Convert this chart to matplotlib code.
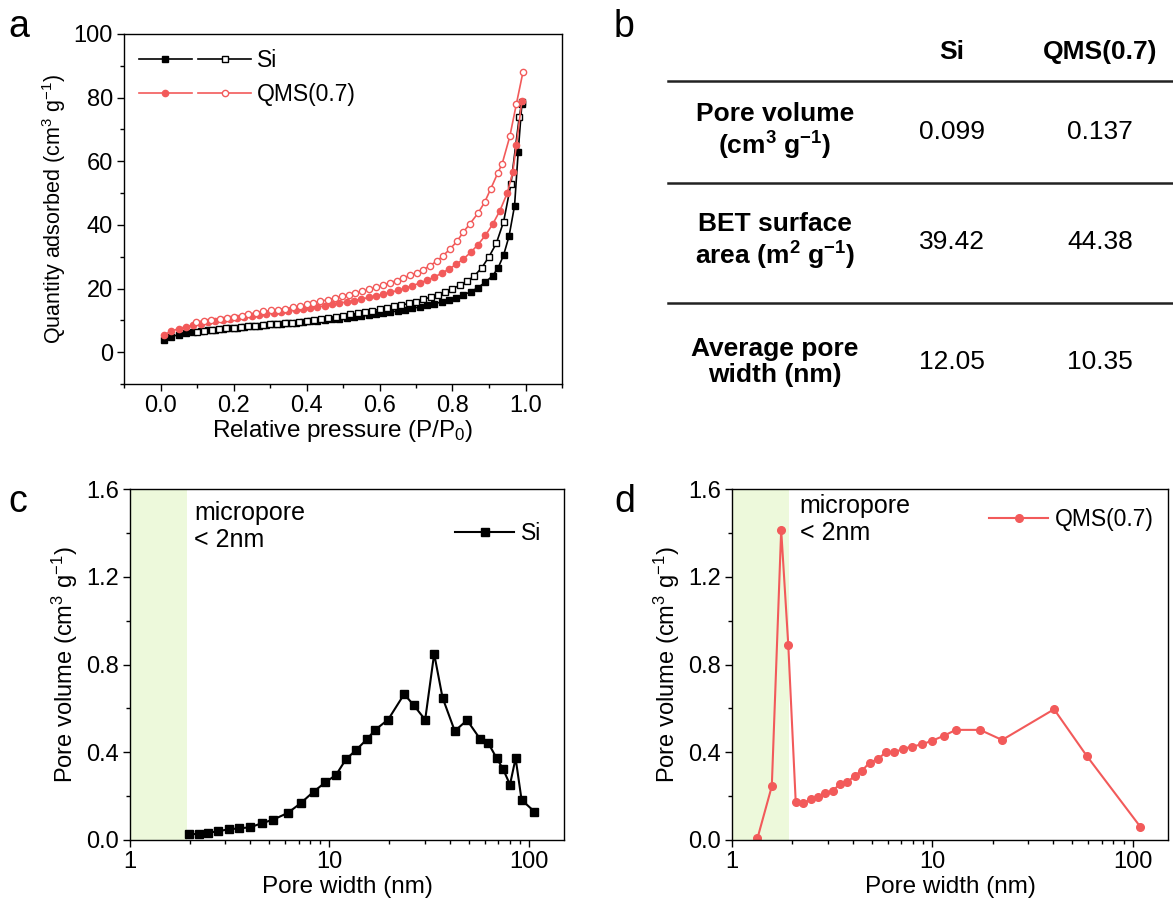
import numpy as np
import matplotlib
matplotlib.use('Agg')
import matplotlib.pyplot as plt
from matplotlib.legend_handler import HandlerTuple
from matplotlib.ticker import MultipleLocator, LogLocator, NullFormatter, FixedLocator, FixedFormatter

plt.rcParams['font.family'] = ['Liberation Sans', 'DejaVu Sans']
plt.rcParams['mathtext.fontset'] = 'custom'
plt.rcParams['mathtext.rm'] = 'Liberation Sans'
plt.rcParams['mathtext.it'] = 'Liberation Sans:italic'
plt.rcParams['mathtext.bf'] = 'Liberation Sans:bold'

RED = '#F25A5A'
GREEN = '#EDF9DB'

# ---- panel a: N2 isotherms ----
si_ads_p = [0.01, 0.03, 0.05, 0.07, 0.09, 0.11, 0.13, 0.15, 0.17, 0.19, 0.21, 0.23, 0.25, 0.27, 0.29,
            0.31, 0.33, 0.35, 0.37, 0.39, 0.41, 0.43, 0.45, 0.47, 0.49, 0.51, 0.53, 0.55, 0.57, 0.59,
            0.61, 0.63, 0.65, 0.67, 0.69, 0.71, 0.73, 0.75, 0.77, 0.79, 0.81, 0.83, 0.85, 0.87, 0.89,
            0.91, 0.925, 0.94, 0.955, 0.97, 0.98, 0.99]
si_ads_q = [3.7, 4.9, 5.5, 5.9, 6.3, 6.6, 6.9, 7.1, 7.3, 7.5, 7.7, 7.9, 8.1, 8.3, 8.5,
            8.7, 8.9, 9.1, 9.3, 9.5, 9.7, 9.9, 10.1, 10.3, 10.5, 10.8, 11.0, 11.3, 11.6, 11.9,
            12.3, 12.6, 13.0, 13.4, 13.8, 14.2, 14.7, 15.2, 15.8, 16.4, 17.1, 18.0, 19.0, 20.3, 22.0,
            24.0, 26.5, 30.5, 36.5, 46.0, 63.0, 78.0]

si_des_p = [0.99, 0.983, 0.96, 0.94, 0.92, 0.90, 0.88, 0.86, 0.84, 0.82, 0.80, 0.78, 0.76, 0.74,
            0.72, 0.70, 0.68, 0.66, 0.64, 0.62, 0.60, 0.58, 0.56, 0.54, 0.52, 0.50, 0.48, 0.46,
            0.44, 0.42, 0.40, 0.38, 0.36, 0.34, 0.32, 0.30, 0.28, 0.26, 0.24, 0.22, 0.20, 0.18,
            0.16, 0.14, 0.12, 0.10]
si_des_q = [78.5, 74.0, 52.8, 41.0, 34.2, 30.0, 26.5, 24.0, 22.3, 21.0, 20.0, 18.9, 18.1, 17.3,
            16.6, 15.9, 15.3, 14.8, 14.4, 14.0, 13.5, 13.0, 12.6, 12.2, 11.9, 11.5, 11.1, 10.7,
            10.4, 10.1, 9.8, 9.5, 9.3, 9.1, 8.9, 8.7, 8.5, 8.3, 8.1, 7.9, 7.7, 7.5,
            7.3, 7.0, 6.7, 6.2]

qms_ads_p = [0.01, 0.03, 0.05, 0.07, 0.09, 0.11, 0.13, 0.15, 0.17, 0.19, 0.21, 0.23, 0.25, 0.27, 0.29,
             0.31, 0.33, 0.35, 0.37, 0.39, 0.41, 0.43, 0.45, 0.47, 0.49, 0.51, 0.53, 0.55, 0.57, 0.59,
             0.61, 0.63, 0.65, 0.67, 0.69, 0.71, 0.73, 0.75, 0.77, 0.79, 0.81, 0.83, 0.85, 0.87, 0.89,
             0.91, 0.93, 0.95, 0.965, 0.975, 0.99]
qms_ads_q = [5.5, 6.6, 7.4, 8.0, 8.5, 9.0, 9.4, 9.8, 10.1, 10.5, 10.8, 11.1, 11.4, 11.7, 12.0,
             12.3, 12.6, 12.9, 13.2, 13.5, 13.9, 14.2, 14.6, 15.0, 15.4, 15.8, 16.2, 16.7, 17.2, 17.7,
             18.2, 18.8, 19.4, 20.1, 20.9, 21.7, 22.6, 23.6, 24.8, 26.1, 27.6, 29.3, 31.4, 33.8, 36.7,
             40.2, 44.5, 50.0, 56.5, 65.0, 79.0]

qms_des_p = [0.993, 0.975, 0.957, 0.936, 0.924, 0.905, 0.888, 0.87, 0.848, 0.83, 0.812, 0.793,
             0.774, 0.757, 0.738, 0.72, 0.702, 0.683, 0.665, 0.647, 0.628, 0.609, 0.591, 0.571,
             0.553, 0.534, 0.516, 0.497, 0.477, 0.459, 0.438, 0.419, 0.401, 0.381, 0.362, 0.342,
             0.322, 0.302, 0.282, 0.261, 0.241, 0.222, 0.202, 0.183, 0.162, 0.139, 0.118, 0.098]
qms_des_q = [88.0, 78.0, 67.8, 59.2, 56.3, 51.4, 47.1, 43.7, 40.4, 37.8, 34.8, 32.4,
             30.3, 28.6, 27.2, 25.9, 24.9, 24.1, 23.3, 22.5, 21.8, 21.0, 20.4, 19.7,
             19.1, 18.6, 18.1, 17.6, 17.0, 16.5, 16.0, 15.5, 15.0, 14.4, 14.1, 13.7,
             13.4, 13.1, 12.8, 12.3, 11.9, 11.5, 11.1, 10.8, 10.5, 10.2, 9.9, 9.4]

# ---- panel b: table ----
col_names = ['Si', 'QMS(0.7)']
row_names = ['Pore volume\n(cm$^\\mathbf{3}$ g$^\\mathbf{-1}$)',
             'BET surface\narea (m$^\\mathbf{2}$ g$^\\mathbf{-1}$)',
             'Average pore\nwidth (nm)']
si_vals = ['0.099', '39.42', '12.05']
qms_vals = ['0.137', '44.38', '10.35']

# ---- panel c/d: pore size distributions ----
si_w = [1.97, 2.21, 2.47, 2.77, 3.13, 3.53, 4.0, 4.57, 5.23, 6.17, 7.16, 8.32, 9.55, 10.8,
        12.1, 13.6, 15.4, 17.0, 19.7, 23.7, 26.5, 30.2, 33.5, 36.9, 42.5, 49.0, 56.9, 62.4,
        68.9, 74.1, 80.4, 85.8, 91.9, 106.7]
si_v = [0.027, 0.027, 0.033, 0.040, 0.049, 0.053, 0.058, 0.076, 0.093, 0.123, 0.167, 0.22, 0.263, 0.297,
        0.368, 0.41, 0.459, 0.503, 0.549, 0.665, 0.614, 0.548, 0.849, 0.649, 0.497, 0.546, 0.461, 0.444,
        0.373, 0.325, 0.252, 0.373, 0.183, 0.129]

qms_w = [1.34, 1.58, 1.76, 1.91, 2.08, 2.27, 2.47, 2.68, 2.92, 3.18, 3.45, 3.77, 4.10, 4.46,
         4.86, 5.34, 5.85, 6.47, 7.11, 7.92, 8.85, 10.0, 11.4, 13.1, 17.3, 22.3, 40.5, 59.0, 109.0]
qms_v = [0.008, 0.245, 1.413, 0.887, 0.173, 0.167, 0.187, 0.196, 0.213, 0.224, 0.254, 0.263, 0.294, 0.316,
         0.353, 0.368, 0.40, 0.40, 0.415, 0.426, 0.436, 0.453, 0.475, 0.502, 0.502, 0.456, 0.596, 0.383, 0.061]

W, H = 1173, 906
fig = plt.figure(figsize=(W / 100, H / 100), dpi=100)

TICK = 17
XLAB = 17.5


def px_axes(l, t, r, b):
    return fig.add_axes([l / W, 1 - b / H, (r - l) / W, (b - t) / H])


def style(ax):
    ax.tick_params(which='both', direction='out', top=False, right=False, labelsize=TICK, width=1)
    ax.tick_params(which='major', length=5, pad=3)
    ax.tick_params(which='minor', length=3)
    for s in ax.spines.values():
        s.set_linewidth(1)


# panel a
ax = px_axes(124, 34, 562, 384)
l1, = ax.plot(si_ads_p, si_ads_q, '-s', color='k', ms=4.5, lw=1.2, mfc='k', mec='k')
l2, = ax.plot(si_des_p, si_des_q, '-s', color='k', ms=4.5, lw=1.2, mfc='white', mec='k')
l3, = ax.plot(qms_ads_p, qms_ads_q, '-o', color=RED, ms=4.5, lw=1.2, mfc=RED, mec=RED)
l4, = ax.plot(qms_des_p, qms_des_q, '-o', color=RED, ms=4.5, lw=1.2, mfc='white', mec=RED)
ax.set_xlim(-0.1, 1.1)
ax.set_ylim(-10, 100)
ax.xaxis.set_major_locator(FixedLocator([0, 0.2, 0.4, 0.6, 0.8, 1.0]))
ax.xaxis.set_minor_locator(MultipleLocator(0.1))
ax.yaxis.set_major_locator(FixedLocator([0, 20, 40, 60, 80, 100]))
ax.yaxis.set_minor_locator(MultipleLocator(10))
style(ax)
ax.set_xlabel('Relative pressure (P/P$_0$)', fontsize=XLAB, labelpad=1)
ax.set_ylabel('Quantity adsorbed (cm$^3$ g$^{-1}$)', fontsize=15.5, labelpad=4)
ax.legend([(l1, l2), (l3, l4)], ['Si', 'QMS(0.7)'], handler_map={tuple: HandlerTuple(ndivide=None, pad=0.3)},
          handlelength=4.9, frameon=False, fontsize=16.5, loc='upper left', borderaxespad=0.25,
          handletextpad=0.25, labelspacing=0.5)

# panel b table
def fx(x):
    return x / W


def fy(y):
    return 1 - y / H


TAB = 19
fig.text(fx(952), fy(52), col_names[0], ha='center', va='center', fontsize=TAB, fontweight='bold')
fig.text(fx(1100), fy(52), col_names[1], ha='center', va='center', fontsize=TAB, fontweight='bold')
for yl in [81, 183, 303]:
    fig.add_artist(plt.Line2D([fx(668), 1], [fy(yl), fy(yl)], color='#222222', lw=1.8))
row_y = [132, 242, 362]
for name, a, b, y in zip(row_names, si_vals, qms_vals, row_y):
    fig.text(fx(775), fy(y), name, ha='center', va='center', fontsize=TAB, fontweight='bold', linespacing=1.15)
    fig.text(fx(952), fy(y), a, ha='center', va='center', fontsize=TAB)
    fig.text(fx(1100), fy(y), b, ha='center', va='center', fontsize=TAB)


def psd_axes(ax, w, v, color, marker, label, text_xy, leg_anchor):
    ax.axvspan(1, 1.93, color=GREEN, lw=0, zorder=0)
    ax.plot(w, v, '-', marker=marker, color=color, ms=5.5, lw=1.5, label=label)
    ax.set_xscale('log')
    ax.set_xlim(1, 150)
    ax.set_ylim(0, 1.6)
    ax.xaxis.set_major_locator(FixedLocator([1, 10, 100]))
    ax.xaxis.set_major_formatter(FixedFormatter(['1', '10', '100']))
    ax.xaxis.set_minor_locator(LogLocator(base=10, subs=np.arange(2, 10)))
    ax.xaxis.set_minor_formatter(NullFormatter())
    ax.yaxis.set_major_locator(FixedLocator([0, 0.4, 0.8, 1.2, 1.6]))
    ax.yaxis.set_major_formatter(FixedFormatter(['0.0', '0.4', '0.8', '1.2', '1.6']))
    ax.yaxis.set_minor_locator(MultipleLocator(0.2))
    style(ax)
    ax.set_xlabel('Pore width (nm)', fontsize=XLAB, labelpad=2)
    ax.set_ylabel('Pore volume (cm$^3$ g$^{-1}$)', fontsize=17, labelpad=4)
    ax.text(text_xy[0], text_xy[1], 'micropore\n< 2nm', transform=ax.transAxes, ha='left', va='top',
            fontsize=18, linespacing=1.15)
    ax.legend(frameon=False, fontsize=16.5, loc='upper right', bbox_to_anchor=leg_anchor,
              handlelength=2.6, handletextpad=0.3, borderaxespad=0.2)


axc = px_axes(130, 489, 564, 840)
psd_axes(axc, si_w, si_v, 'k', 's', 'Si', (0.148, 0.965), (0.98, 0.945))
axd = px_axes(732, 489, 1168, 840)
psd_axes(axd, qms_w, qms_v, RED, 'o', 'QMS(0.7)', (0.155, 0.985), (1.0, 0.985))

for lab, x, y in [('a', 8, 37), ('b', 614, 37), ('c', 8, 512), ('d', 614, 512)]:
    fig.text(fx(x), fy(y), lab, fontsize=27, ha='left', va='baseline')

fig.savefig('out.png', dpi=100)
